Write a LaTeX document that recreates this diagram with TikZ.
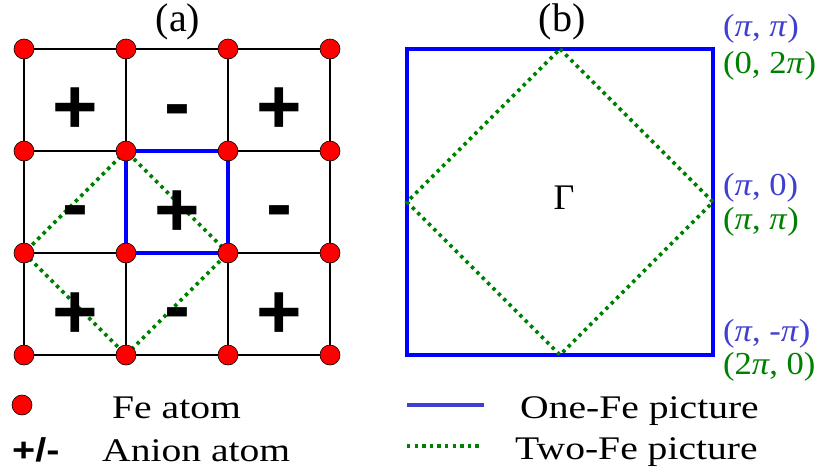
\documentclass[tikz,border=0pt]{standalone}
\usepackage{graphicx}
\usepackage{fontspec}
\setmainfont{Liberation Serif}
\newfontfamily\signfont{Liberation Sans}
\definecolor{feRed}{RGB}{255,0,0}
\definecolor{sqBlue}{RGB}{0,0,255}
\definecolor{lblBlue}{RGB}{64,64,208}
\definecolor{dotGreen}{RGB}{0,128,0}
\tikzset{
  fedot/.style={circle,draw=black,line width=0.6pt,fill=feRed,minimum size=20pt,inner sep=0pt},
  gridline/.style={draw=black,line width=1.4pt},
  onefe/.style={draw=sqBlue,line width=3.5pt},
  twofe/.style={draw=dotGreen,line width=3.6pt,dash pattern=on 3.4pt off 4.2pt},
  sign/.style={inner sep=0pt,anchor=base,font=\signfont\bfseries\fontsize{78}{78}\selectfont},
  title/.style={inner sep=0pt,anchor=base,font=\fontsize{40}{40}\selectfont},
  legtext/.style={inner sep=0pt,anchor=base west,font=\fontsize{33}{33}\selectfont},
  corner/.style={inner sep=0pt,anchor=base west,font=\fontsize{32}{32}\selectfont},
}
\newcommand{\wide}[1]{\scalebox{1.2}[1]{#1}}
\newcommand{\cwide}[1]{\scalebox{1.08}[1]{#1}}
\begin{document}
\begin{tikzpicture}[x=1pt,y=-1pt]
\useasboundingbox (0,0) rectangle (815,469);
% lattice points
\foreach \i/\x in {1/24,2/126,3/228,4/330}{
  \foreach \j/\y in {1/49,2/151,3/253,4/355}{
    \coordinate (p\i\j) at (\x,\y);
  }
}
% grid lines
\foreach \j in {1,2,3,4}{ \draw[gridline] (p1\j) -- (p4\j); }
\foreach \i in {1,2,3,4}{ \draw[gridline] (p\i1) -- (p\i4); }
% one-Fe cell
\draw[onefe] (p22) rectangle (p33);
% two-Fe cell
\draw[twofe] (p22) -- (p13) -- (p24) -- (p33) -- cycle;
% Fe atoms
\foreach \i in {1,2,3,4}{
  \foreach \j in {1,2,3,4}{
    \node[fedot] (d\i\j) at (p\i\j) {};
  }
}
% anion signs (baseline positions)
\node[sign] (s11) at (75,133) {+};
\node[sign] (s21) at (177,129) {-};
\node[sign] (s31) at (279,133) {+};
\node[sign] (s12) at (75,230) {-};
\node[sign] (s22) at (177,236) {+};
\node[sign] (s32) at (279,230) {-};
\node[sign] (s13) at (75,338) {+};
\node[sign] (s23) at (177,332) {-};
\node[sign] (s33) at (279,338) {+};
% titles
\node[title] (ta) at (178,31) {(a)};
\node[title] (tb) at (562,31) {(b)};
% right panel
\coordinate (btl) at (407,49);
\coordinate (bbr) at (713,355);
\coordinate (dt) at (560,49);
\coordinate (dr) at (713,202);
\coordinate (db) at (560,355);
\coordinate (dl) at (407,202);
\draw[onefe,line width=4.5pt] (btl) rectangle (bbr);
\draw[twofe] (dt) -- (dr) -- (db) -- (dl) -- cycle;
\node[inner sep=0pt,font=\fontsize{36}{36}\selectfont] (gam) at (564,198) {Γ};
% corner labels
\node[corner,text=lblBlue] (c1) at (723,36) {\cwide{(\textit{π}, \textit{π})}};
\node[corner,text=dotGreen] (c2) at (723,73) {\cwide{(0, 2\textit{π})}};
\node[corner,text=lblBlue] (c3) at (723,195) {\cwide{(\textit{π}, 0)}};
\node[corner,text=dotGreen] (c4) at (723,229) {\cwide{(\textit{π}, \textit{π})}};
\node[corner,text=lblBlue] (c5) at (723,341) {\cwide{(\textit{π}, -\textit{π})}};
\node[corner,text=dotGreen] (c6) at (723,374) {\cwide{(2\textit{π}, 0)}};
% legend
\node[fedot] (lfe) at (22,405) {};
\node[legtext] (lfet) at (112,418) {\wide{Fe atom}};
\node[inner sep=0pt,anchor=base west,font=\signfont\bfseries\fontsize{33}{33}\selectfont] (lpm) at (12,461) {\wide{+/-}};
\node[legtext] (lpmt) at (102,461) {\wide{Anion atom}};
\coordinate (lb1) at (407,405);
\coordinate (lb2) at (484,405);
\draw[draw=lblBlue,line width=4pt] (lb1) -- (lb2);
\coordinate (lg1) at (407,446);
\coordinate (lg2) at (482,446);
\draw[twofe] (lg1) -- (lg2);
\node[legtext] (lbt) at (520,418) {\wide{One-Fe picture}};
\node[legtext] (lgt) at (515,459) {\wide{Two-Fe picture}};
\end{tikzpicture}
\end{document}
